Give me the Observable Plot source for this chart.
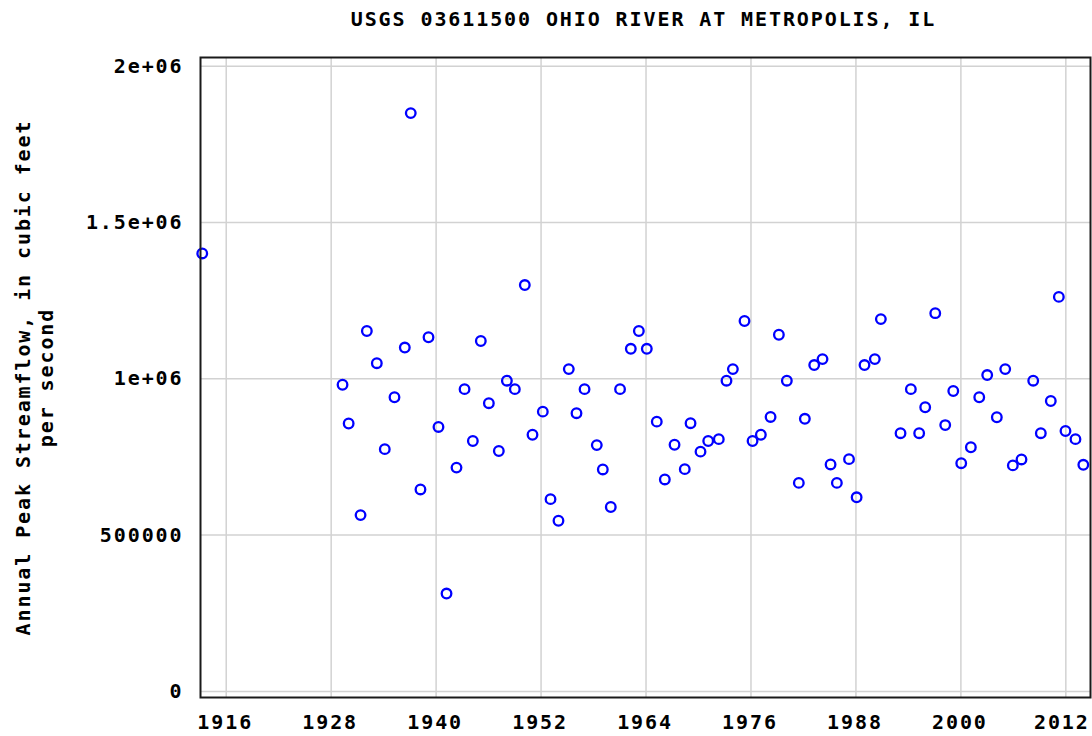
<!DOCTYPE html>
<html>
<head>
<meta charset="utf-8">
<script src="https://cdn.jsdelivr.net/npm/d3@7"></script>
<script src="https://cdn.jsdelivr.net/npm/@observablehq/plot@0.6"></script>
<style>
  html, body { margin: 0; padding: 0; background: #fff; }
  #chart svg text { letter-spacing: 1.9px; }
</style>
</head>
<body>
<div id="chart"></div>
<script>
const titleText = "USGS 03611500 OHIO RIVER AT METROPOLIS, IL";
const yLabelLine1 = "Annual Peak Streamflow, in cubic feet";
const yLabelLine2 = "per second";

// Decimal year of each annual peak
const peakDates = [
  1913.26,
  1929.30, 1930.00, 1931.36, 1932.08, 1933.22, 1934.13, 1935.24, 1936.42, 1937.10, 1938.21,
  1939.13, 1940.27, 1941.19, 1942.33, 1943.25, 1944.20, 1945.11, 1946.03, 1947.17, 1948.09,
  1949.00, 1950.14, 1951.02, 1952.20, 1953.08, 1953.99, 1955.17, 1956.05, 1956.97, 1958.37,
  1959.06, 1959.97, 1961.03, 1962.26, 1963.18, 1964.09, 1965.23, 1966.15, 1967.26, 1968.43,
  1969.09, 1970.23, 1971.11, 1972.32, 1973.20, 1973.93, 1975.26, 1976.18, 1977.13, 1978.24,
  1979.19, 1980.10, 1981.47, 1982.16, 1983.23, 1984.18, 1985.10, 1985.82, 1987.21, 1988.08,
  1988.98, 1990.16, 1990.85, 1993.10, 1994.28, 1995.23, 1995.92, 1997.07, 1998.21, 1999.13,
  2000.04, 2001.14, 2002.10, 2003.01, 2004.11, 2005.07, 2005.94, 2006.93, 2008.27, 2009.14,
  2010.28, 2011.20, 2011.96, 2013.10, 2014.00
];

// Annual peak streamflow, cubic feet per second
const peakFlows = [
  1401000,
  981000, 857000, 564000, 1153000, 1050000, 775000, 941000, 1100000, 1850000, 646000,
  1133000, 846000, 313000, 716000, 967000, 801000, 1121000, 922000, 769000, 994000,
  967000, 1300000, 821000, 895000, 615000, 546000, 1031000, 890000, 967000, 788000,
  710000, 590000, 967000, 1096000, 1153000, 1096000, 863000, 678000, 789000, 711000,
  858000, 767000, 801000, 807000, 994000, 1031000, 1185000, 801000, 821000, 878000,
  1141000, 994000, 667000, 872000, 1044000, 1063000, 726000, 667000, 743000, 621000,
  1044000, 1063000, 1191000, 826000, 967000, 826000, 909000, 1210000, 852000, 961000,
  730000, 781000, 941000, 1012000, 877000, 1031000, 723000, 742000, 994000, 826000,
  929000, 1262000, 833000, 807000, 725000
];

const xTicks = [1916, 1928, 1940, 1952, 1964, 1976, 1988, 2000, 2012];
const yTicks = [0, 500000, 1000000, 1500000, 2000000];
const yTickLabels = ["0", "500000", "1e+06", "1.5e+06", "2e+06"];

const data = peakDates.map((d, i) => ({date: d, flow: peakFlows[i]}));
const lastTick = xTicks[xTicks.length - 1];
const innerTicks = xTicks.filter(t => t !== lastTick);

const FONT = "'DejaVu Sans Mono', 'Liberation Mono', monospace";
const FS = 20;

const chart = Plot.plot({
  width: 1092,
  height: 736,
  marginLeft: 200,
  marginRight: 2,
  marginTop: 57,
  marginBottom: 39,
  style: {fontFamily: FONT, fontSize: FS + "px", fontWeight: "bold", color: "#000", background: "#fff"},
  x: {domain: [1913.06, 2014.82]},
  y: {domain: [-19500, 2027900]},
  marks: [
    Plot.gridX(xTicks, {stroke: "#d2d2d2", strokeOpacity: 1, strokeWidth: 1.5}),
    Plot.gridY(yTicks, {stroke: "#d2d2d2", strokeOpacity: 1, strokeWidth: 1.5}),
    Plot.axisX(innerTicks, {tickSize: 0, tickPadding: 17, label: null, fontSize: FS, fontWeight: "bold", dx: -1, tickFormat: d => String(d)}),
    Plot.axisX([lastTick], {tickSize: 0, tickPadding: 17, label: null, fontSize: FS, fontWeight: "bold", dx: -4, tickFormat: d => String(d)}),
    Plot.axisY(yTicks, {tickSize: 0, tickPadding: 17, label: null, fontSize: FS, fontWeight: "bold",
      tickFormat: d => yTickLabels[yTicks.indexOf(d)]}),
    Plot.dot(data, {x: "date", y: "flow", r: 4.8, stroke: "#0000ff", strokeWidth: 2.3, fill: "none"}),
    Plot.frame({stroke: "#1a1a1a", strokeWidth: 2}),
    Plot.text([titleText], {text: d => d, frameAnchor: "top", dy: -37.5, dx: -2, lineAnchor: "middle", fontSize: FS, fontWeight: "bold"}),
    Plot.text([yLabelLine1], {text: d => d, frameAnchor: "left", dx: -177, rotate: -90, lineAnchor: "middle", textAnchor: "middle", fontSize: FS, fontWeight: "bold"}),
    Plot.text([yLabelLine2], {text: d => d, frameAnchor: "left", dx: -154, rotate: -90, lineAnchor: "middle", textAnchor: "middle", fontSize: FS, fontWeight: "bold"})
  ]
});
document.getElementById("chart").appendChild(chart);
</script>
</body>
</html>
